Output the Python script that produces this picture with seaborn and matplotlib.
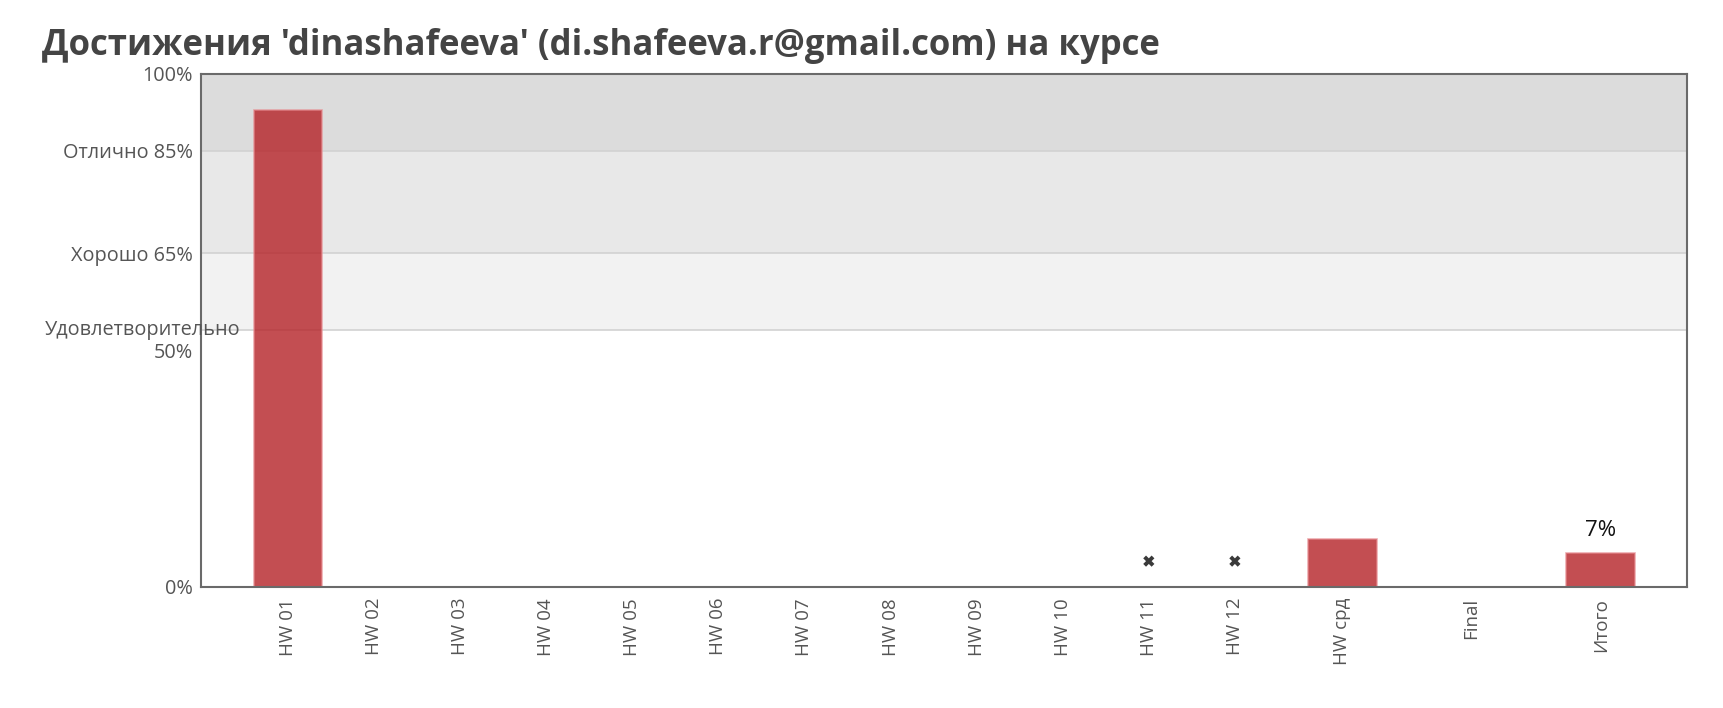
import numpy as np
import pandas as pd
import matplotlib
matplotlib.use("Agg")
import matplotlib.pyplot as plt
import seaborn as sns

# ---- data ----
categories = ["HW 01", "HW 02", "HW 03", "HW 04", "HW 05", "HW 06", "HW 07", "HW 08",
              "HW 09", "HW 10", "HW 11", "HW 12", "HW срд", "Final", "Итого"]
scores = [93, 0, 0, 0, 0, 0, 0, 0, 0, 0, np.nan, np.nan, 9.3, 0, 6.5]
missing_categories = ["HW 11", "HW 12"]
missing_values = [5, 5]
total_label = "7%"
title = "Достижения 'dinashafeeva' (di.shafeeva.r@gmail.com) на курсе"
grade_levels = [50, 65, 85, 100]
grade_names = ["Удовлетворительно", "Хорошо", "Отлично", ""]

# ---- layout: 12 homework slots of width 1, summary slots of width 1.5 ----
slot_w = np.array([1.0] * 12 + [1.5] * 3)
pos = np.cumsum(slot_w) - slot_w / 2 - 0.5
pos_of = dict(zip(categories, pos))

sns.set_theme(style="white")
plt.rcParams["font.family"] = ["Open Sans", "DejaVu Sans"]

fig = plt.figure(figsize=(17.23, 7.08), dpi=100)
ax = fig.add_axes([0.1167, 0.1712, 0.979 - 0.1167, 0.896 - 0.1712])

df = pd.DataFrame({"pos": pos, "score": scores})
sns.barplot(data=df, x="pos", y="score", native_scale=True, width=0.8,
            color="#b52227", ax=ax, zorder=2)
for cont in ax.containers:
    for p in cont:
        p.set_facecolor((181/255, 34/255, 39/255, 0.8))
        p.set_edgecolor((230/255, 140/255, 145/255, 0.7))
        p.set_linewidth(1.2)

# grade bands
band_colors = ["#f2f2f2", "#e8e8e8", "#dcdcdc"]
for lo, hi, c in zip(grade_levels[:-1], grade_levels[1:], band_colors):
    ax.axhspan(lo, hi, color=c, lw=0, zorder=0)
for lv in grade_levels[:-1]:
    ax.axhline(lv, color="#d2d2d2", lw=1.2, zorder=0.5)

mdf = pd.DataFrame({"pos": [pos_of[c] for c in missing_categories], "v": missing_values})
sns.scatterplot(data=mdf, x="pos", y="v", marker="X", s=65, color="#3a3a3a",
                edgecolor="none", ax=ax, zorder=3)

itogo_i = categories.index("Итого")
ax.annotate(total_label, xy=(pos[itogo_i], scores[itogo_i]), xytext=(0, 9),
            textcoords="offset points", ha="center", va="bottom",
            fontsize=16, color="#111111")

ax.set_xlim(pos[0] - 1.01, pos[-1] + 1.0)
ax.set_ylim(0, 100)
ax.set_xticks(pos)
ax.set_xticklabels(categories, rotation=90, fontsize=13.5, color="#555555")
ax.set_yticks([0, 65, 85, 100])
ax.set_yticklabels(["0%", "Хорошо 65%", "Отлично 85%", "100%"], fontsize=14.3, color="#555555")
ax.tick_params(axis="both", length=0)
ax.tick_params(axis="y", pad=6)
ax.tick_params(axis="x", pad=8)
ax.set_xlabel("")
ax.set_ylabel("")

# two-line label for the 50% level
ax.annotate(grade_names[0], xy=(0, 50), xycoords=("axes fraction", "data"),
            xytext=(28.5, 0), textcoords="offset points", ha="right", va="center",
            fontsize=14.3, color="#555555", zorder=5)
ax.annotate("50%", xy=(0, 50), xycoords=("axes fraction", "data"),
            xytext=(-5.8, -16.5), textcoords="offset points", ha="right", va="center",
            fontsize=14.3, color="#555555", zorder=5)

for s in ax.spines.values():
    s.set_visible(True)
    s.set_color("#6a6a6a")
    s.set_linewidth(1.5)
    s.set_zorder(4)

fig.text(42 / 1723, 1 - 55 / 708, title, fontsize=25, fontweight="bold",
         color="#444444", ha="left", va="baseline")

fig.savefig("out.png", dpi=100)
